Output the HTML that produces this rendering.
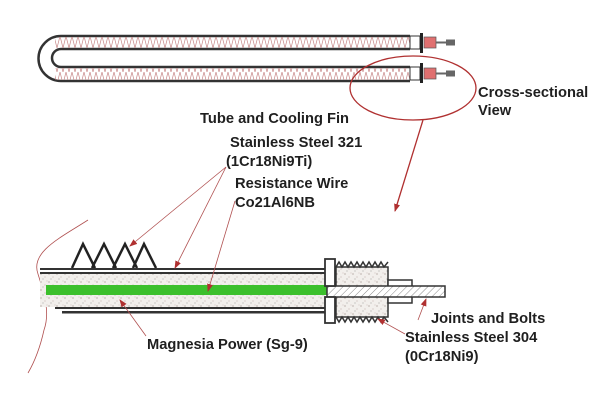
<!DOCTYPE html>
<html><head><meta charset="utf-8"><style>
html,body{margin:0;padding:0;background:#fff;}
svg{display:block;}
text{font-family:"Liberation Sans",Arial,sans-serif;font-size:14.7px;font-weight:bold;fill:#1f1f1f;}
</style></head><body>
<svg width="600" height="407" viewBox="0 0 600 407" xmlns="http://www.w3.org/2000/svg">
<defs>
<pattern id="zig" width="6" height="12" patternUnits="userSpaceOnUse">
<path d="M0 0 L3 12 L6 0" fill="none" stroke="#c98a8a" stroke-width="0.7"/>
</pattern>
<pattern id="dots" width="8" height="8" patternUnits="userSpaceOnUse">
<rect width="8" height="8" fill="#f2efec"/>
<circle cx="1" cy="2" r="0.6" fill="#9a8a86"/><circle cx="5" cy="5" r="0.5" fill="#b09a96"/><circle cx="3" cy="7" r="0.5" fill="#888"/><circle cx="7" cy="1" r="0.4" fill="#a88"/>
</pattern>
<pattern id="hatch" width="5" height="5" patternUnits="userSpaceOnUse" patternTransform="rotate(45)">
<rect width="5" height="5" fill="#fff"/><line x1="0" y1="0" x2="0" y2="5" stroke="#888" stroke-width="1"/>
</pattern>
<marker id="ar" markerWidth="8" markerHeight="8" refX="7" refY="4" orient="auto" markerUnits="userSpaceOnUse">
<path d="M0 1 L8 4 L0 7 Z" fill="#b03030"/>
</marker>
</defs>
<!-- top U tube -->
<path d="M410 36 L61 36 A22.5 22.5 0 0 0 61 81 L410 81" fill="none" stroke="#333" stroke-width="2.5"/>
<path d="M410 49 L61 49 A9 9 0 0 0 61 67 L410 67" fill="none" stroke="#333" stroke-width="2.5"/>
<rect x="55" y="37" width="355" height="11" fill="url(#zig)"/>
<rect x="55" y="68" width="355" height="12" fill="url(#zig)"/>
<rect x="410" y="36" width="10" height="13" fill="#fff" stroke="#333"/>
<rect x="410" y="67" width="10" height="13" fill="#fff" stroke="#333"/>
<rect x="420" y="33" width="3" height="20" fill="#222"/>
<rect x="420" y="63" width="3" height="20" fill="#222"/>
<rect x="424" y="37" width="12" height="11" fill="#e07070" stroke="#555" stroke-width="0.7"/>
<rect x="424" y="68" width="12" height="11" fill="#e07070" stroke="#555" stroke-width="0.7"/>
<path d="M436 41.5 h10 v-2 h9 v6 h-9 v-2 h-10z" fill="#666"/>
<path d="M436 72.5 h10 v-2 h9 v6 h-9 v-2 h-10z" fill="#666"/>
<!-- ellipse + arrow -->
<ellipse cx="413" cy="88" rx="63" ry="32" fill="none" stroke="#b03030" stroke-width="1.3"/>
<line x1="423" y1="120" x2="395" y2="211" stroke="#b03030" stroke-width="1.3" marker-end="url(#ar)"/>
<!-- left wavy curve -->
<path d="M88 220 C60 238 30 252 38 274 C45 296 50 313 44 330 C40 348 35 361 28 373" fill="none" stroke="#b05050" stroke-width="0.8"/>
<!-- fins -->
<g fill="none" stroke="#222" stroke-width="2.5" stroke-linejoin="miter">
<path d="M72 268 L83 244 L95 268"/>
<path d="M92 268 L104 244 L116 268"/>
<path d="M113 268 L125 244 L137 268"/>
<path d="M133 268 L144 244 L156 268"/>
</g>
<!-- tube cross section -->
<rect x="40" y="268" width="285" height="2" fill="#333"/>
<rect x="40" y="272" width="285" height="2" fill="#333"/>
<rect x="40" y="274" width="285" height="33" fill="url(#dots)"/>
<rect x="46" y="285" width="282" height="10" fill="#3cc02c"/>
<rect x="55" y="307" width="270" height="2" fill="#333"/>
<rect x="62" y="311" width="263" height="2.5" fill="#333"/>
<!-- threaded -->
<rect x="336" y="267" width="52" height="50" fill="url(#dots)" stroke="#333" stroke-width="1.5"/>
<path d="M336 267 l3 -5 l3 5 l3 -5 l3 5 l3 -5 l3 5 l3 -5 l3 5 l3 -5 l3 5 l3 -5 l3 5 l3 -5 l3 5 l3 -5 l3 5 l4 -5" fill="none" stroke="#333" stroke-width="1.5"/>
<path d="M336 317 l3 5 l3 -5 l3 5 l3 -5 l3 5 l3 -5 l3 5 l3 -5 l3 5 l3 -5 l3 5 l3 -5 l3 5 l3 -5 l3 5 l3 -5 l4 5" fill="none" stroke="#333" stroke-width="1.5"/>
<rect x="388" y="280" width="24" height="23" fill="#fff" stroke="#333" stroke-width="1.5"/>
<rect x="327" y="286" width="118" height="11" fill="url(#hatch)" stroke="#333" stroke-width="1.5"/>
<rect x="325" y="259" width="10" height="27" fill="#fff" stroke="#333" stroke-width="1.8"/>
<rect x="325" y="297" width="10" height="26" fill="#fff" stroke="#333" stroke-width="1.8"/>
<!-- leaders -->
<g stroke="#b05050" stroke-width="0.8" fill="none">
<line x1="226" y1="167" x2="130" y2="246" marker-end="url(#ar)"/>
<line x1="226" y1="167" x2="175" y2="268" marker-end="url(#ar)"/>
<line x1="235" y1="201" x2="208" y2="291" marker-end="url(#ar)"/>
<line x1="146" y1="336" x2="120" y2="300" marker-end="url(#ar)"/>
<line x1="418" y1="320" x2="426" y2="299" marker-end="url(#ar)"/>
<line x1="405" y1="334" x2="378" y2="319" marker-end="url(#ar)"/>
</g>
<!-- labels -->
<text x="478" y="97">Cross-sectional</text>
<text x="478" y="115">View</text>
<text x="200" y="123">Tube and Cooling Fin</text>
<text x="230" y="147">Stainless Steel 321</text>
<text x="226" y="166">(1Cr18Ni9Ti)</text>
<text x="235" y="188">Resistance Wire</text>
<text x="235" y="207">Co21Al6NB</text>
<text x="147" y="349">Magnesia Power (Sg-9)</text>
<text x="431" y="323">Joints and Bolts</text>
<text x="405" y="342">Stainless Steel 304</text>
<text x="405" y="361">(0Cr18Ni9)</text>
</svg>
</body></html>
